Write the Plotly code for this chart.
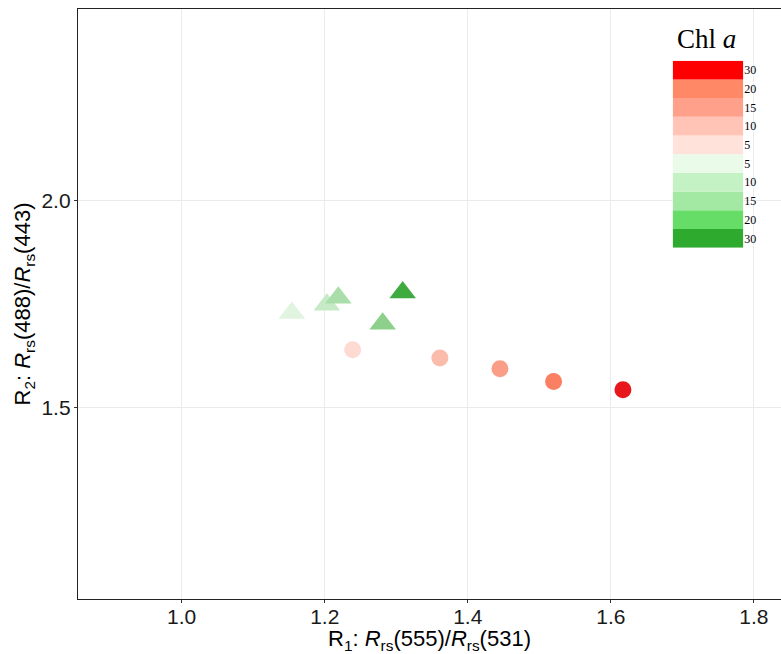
import plotly.graph_objects as go

# Band-ratio values (R1 = Rrs(555)/Rrs(531), R2 = Rrs(488)/Rrs(443)) per Chl a level
chl_levels = [5, 10, 15, 20, 30]

green_r1 = [1.154, 1.203, 1.219, 1.281, 1.309]
green_r2 = [1.728, 1.748, 1.765, 1.702, 1.778]
green_colors = ["#E0F4E0", "#C6EAC6", "#A9DDA9", "#8CD08C", "#3FAA3F"]

red_r1 = [1.239, 1.361, 1.445, 1.520, 1.617]
red_r2 = [1.639, 1.619, 1.593, 1.562, 1.542]
red_colors = ["#FDDBD2", "#FCBCAB", "#FB9E88", "#FA7F63", "#E8171B"]

# Colour key, listed bottom to top
key_labels = ["30", "20", "15", "10", "5", "5", "10", "15", "20", "30"]
key_colors = ["#2EAA2E", "#66DD66", "#A3E8A3", "#C5F2C5", "#EAFBEA",
              "#FFE3DB", "#FFC4B6", "#FFA08A", "#FF8866", "#FF0000"]

x_ticks = [1.0, 1.2, 1.4, 1.6, 1.8]
y_ticks = [1.5, 2.0]

x_title = "R<sub>1</sub>: <i>R</i><sub>rs</sub>(555)/<i>R</i><sub>rs</sub>(531)"
y_title = "R<sub>2</sub>: <i>R</i><sub>rs</sub>(488)/<i>R</i><sub>rs</sub>(443)"

W, H = 781, 654
ml, mr, mt, mb = 78, 0, 9, 55

fig = go.Figure()

fig.add_trace(go.Scatter(
    x=green_r1, y=green_r2, mode="markers",
    marker=dict(symbol="triangle-up", size=23, color=green_colors, line=dict(width=0)),
    showlegend=False, hoverinfo="x+y"))

fig.add_trace(go.Scatter(
    x=red_r1, y=red_r2, mode="markers",
    marker=dict(symbol="circle", size=17, color=red_colors, line=dict(width=0)),
    showlegend=False, hoverinfo="x+y"))

# Colour key as a stacked column on its own axes
n = len(key_labels)
fig.add_trace(go.Bar(
    x=[0] * n, y=[1] * n, base=list(range(n)), width=1,
    marker=dict(color=key_colors, line=dict(width=0)),
    xaxis="x2", yaxis="y2", showlegend=False, hoverinfo="skip"))

pw = W - ml - mr
ph = H - mt - mb
kx0, kx1 = (672.7 - ml) / pw, (743.3 - ml) / pw
ky1, ky0 = (H - mb - 60.7) / ph, (H - mb - 247.7) / ph

axis_font = dict(family="Liberation Sans, Arial, sans-serif", size=21, color="#1A1A1A")
title_font = dict(family="Liberation Sans, Arial, sans-serif", size=22, color="#000000")

fig.update_layout(
    width=W, height=H,
    margin=dict(l=ml, r=mr, t=mt, b=mb),
    paper_bgcolor="white", plot_bgcolor="white",
    xaxis=dict(
        range=[0.855, 1.838], tickvals=x_ticks, ticktext=[f"{v:.1f}" for v in x_ticks],
        showgrid=True, gridcolor="#EBEBEB", gridwidth=1, zeroline=False,
        showline=True, linecolor="#222222", linewidth=1.4, mirror=True,
        ticks="outside", ticklen=3, tickcolor="#333333", tickwidth=1,
        ticklabelstandoff=-4,
        tickfont=axis_font,
    ),
    yaxis=dict(
        range=[1.035, 2.465], tickvals=y_ticks, ticktext=[f"{v:.1f}" for v in y_ticks],
        showgrid=True, gridcolor="#EBEBEB", gridwidth=1, zeroline=False,
        showline=True, linecolor="#222222", linewidth=1.4, mirror=False,
        ticks="outside", ticklen=3, tickcolor="#333333", tickwidth=1,
        ticklabelstandoff=-1,
        tickfont=axis_font,
        title=dict(text=y_title, font=title_font, standoff=4),
    ),
    xaxis2=dict(domain=[kx0, kx1], range=[-0.5, 0.5], anchor="y2",
                showgrid=False, zeroline=False, showticklabels=False, showline=False),
    yaxis2=dict(domain=[ky0, ky1], range=[0, n], anchor="x2", side="right",
                tickvals=[i + 0.5 for i in range(n)], ticktext=key_labels,
                showgrid=False, zeroline=False, showline=False, ticks="",
                tickfont=dict(family="Liberation Serif, Times New Roman, serif", size=12, color="#000000")),
    annotations=[
        dict(text="Chl <i>a</i>", xref="paper", yref="paper",
             x=(706 - ml) / pw, y=ky1 + 0.008, xanchor="center", yanchor="bottom",
             showarrow=False,
             font=dict(family="Liberation Serif, Times New Roman, serif", size=27, color="#000000")),
        dict(text=x_title, xref="paper", yref="paper",
             x=0.5, y=(H - mb - 640) / ph, xanchor="center", yanchor="middle",
             showarrow=False, font=title_font),
    ],
)

fig.write_html("out.html")
